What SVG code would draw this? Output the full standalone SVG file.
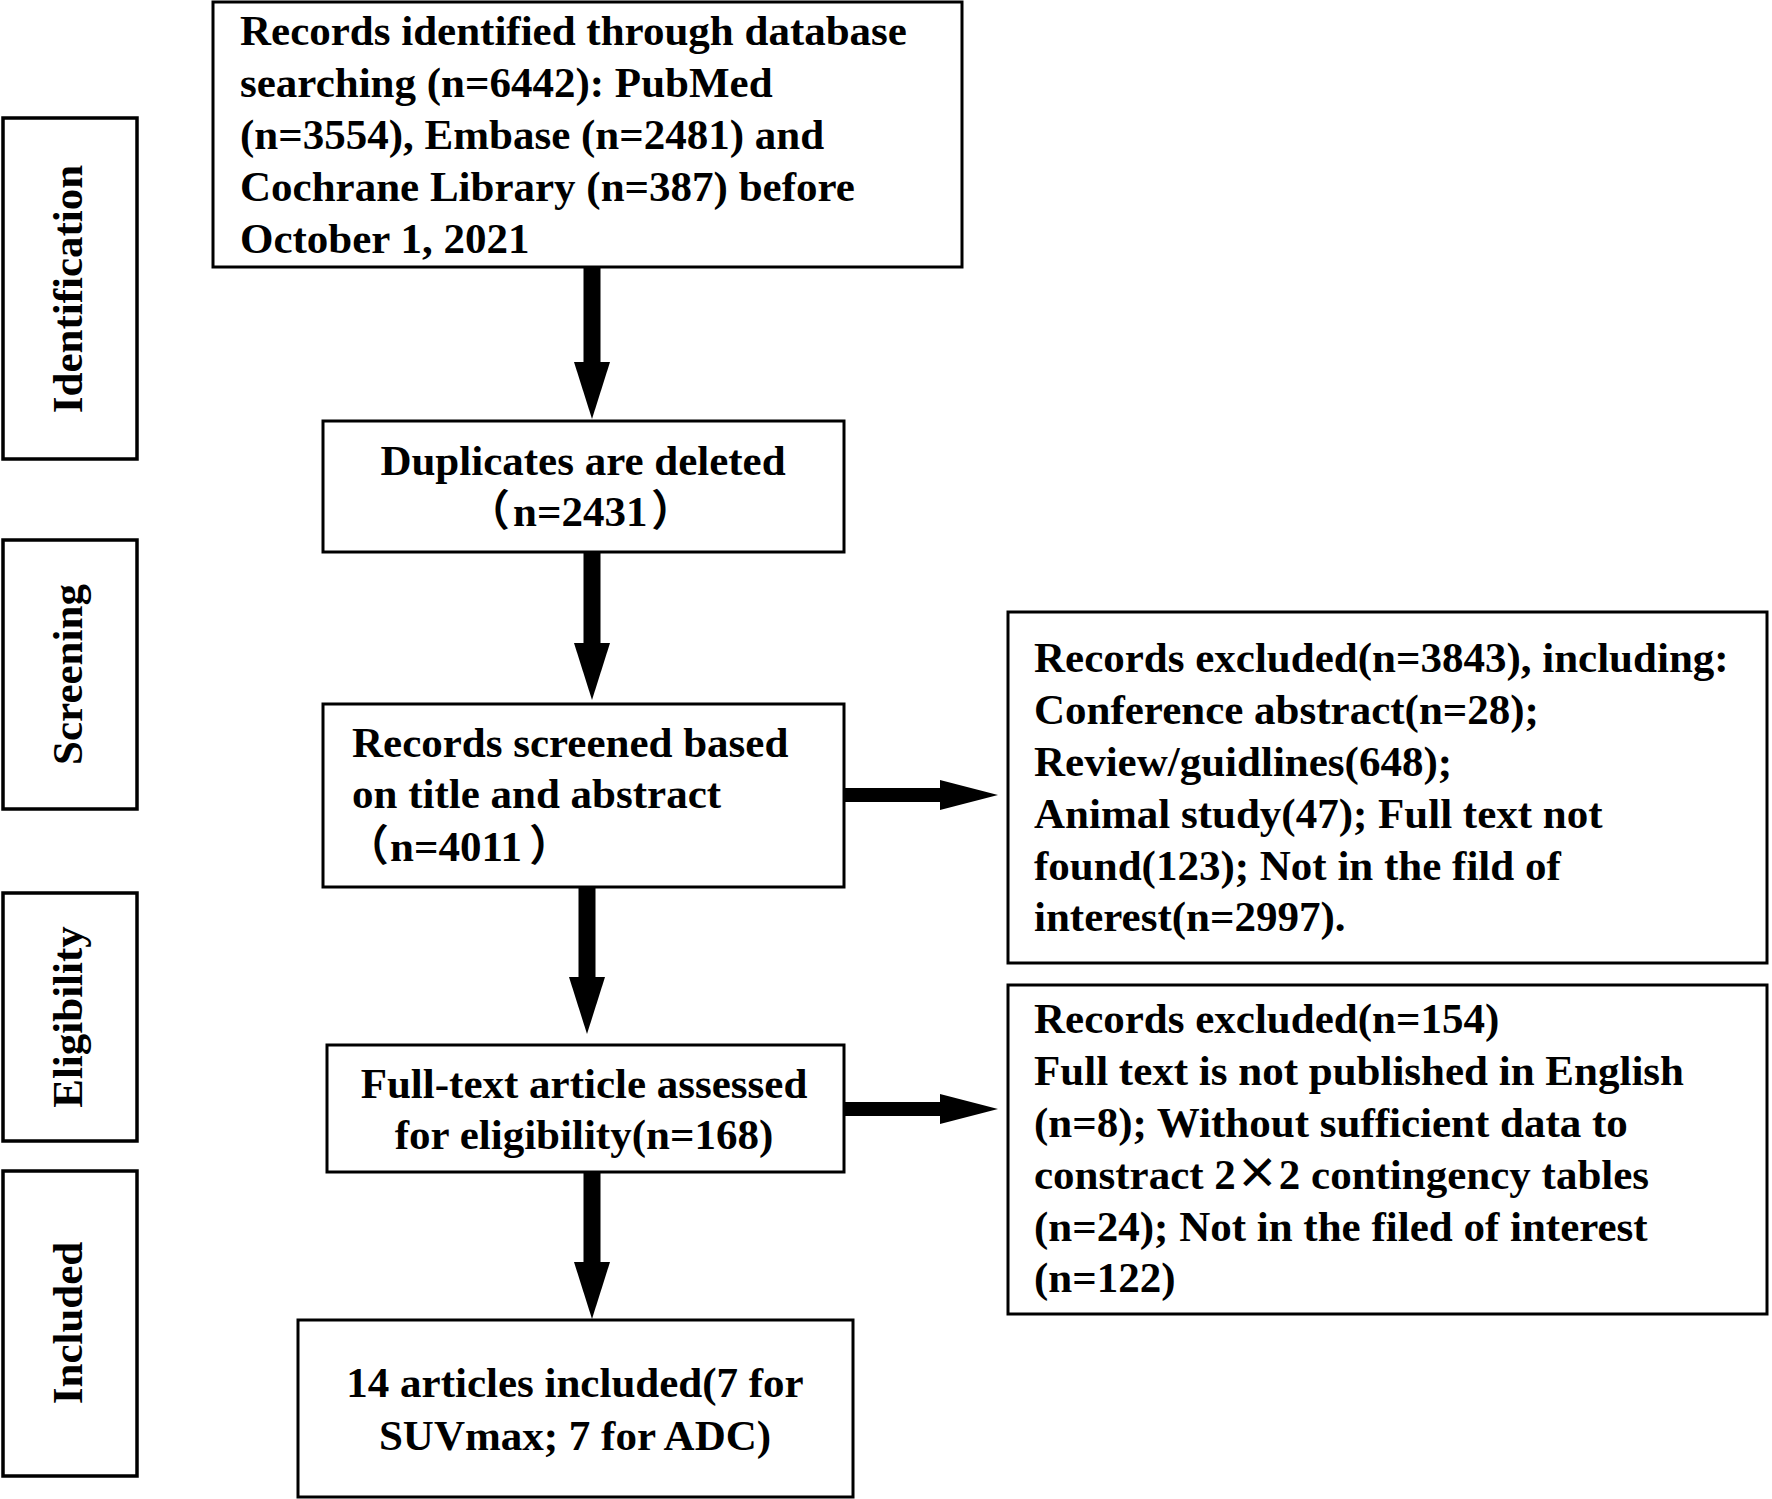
<svg xmlns="http://www.w3.org/2000/svg" width="1772" height="1499" viewBox="0 0 1772 1499">
  <style>
    .box { fill: #ffffff; stroke: #000000; stroke-width: 3; }
    .lbl { fill: #ffffff; stroke: #000000; stroke-width: 3.5; }
    .t { font-family: "Liberation Serif", "Times New Roman", serif; font-weight: bold; font-size: 43px; fill: #000000; }
    .c { text-anchor: middle; }
    .cjk { font-family: "Noto Sans CJK SC", sans-serif; font-weight: bold; }
    .shaftV { stroke: #000000; stroke-width: 17; fill: none; }
    .shaftH { stroke: #000000; stroke-width: 14; fill: none; }
  </style>
  <defs>
    <marker id="headV" markerUnits="userSpaceOnUse" markerWidth="58" markerHeight="36" refX="0" refY="18" orient="auto">
      <path d="M0,0 L57,18 L0,36 z" fill="#000000"/>
    </marker>
    <marker id="headH" markerUnits="userSpaceOnUse" markerWidth="60" markerHeight="32" refX="0" refY="16" orient="auto">
      <path d="M0,1 L58,16 L0,31 z" fill="#000000"/>
    </marker>
  </defs>
  <rect x="0" y="0" width="1772" height="1499" fill="#ffffff"/>

  <g id="stage-identification">
    <rect class="lbl" x="3" y="118" width="134" height="341"/>
    <text class="t c" transform="translate(82,289) rotate(-90)">Identification</text>
  </g>
  <g id="stage-screening">
    <rect class="lbl" x="3" y="540" width="134" height="269"/>
    <text class="t c" transform="translate(82,674.5) rotate(-90)">Screening</text>
  </g>
  <g id="stage-eligibility">
    <rect class="lbl" x="3" y="893" width="134" height="248"/>
    <text class="t c" transform="translate(82,1017) rotate(-90)">Eligibility</text>
  </g>
  <g id="stage-included">
    <rect class="lbl" x="3" y="1171" width="134" height="305"/>
    <text class="t c" transform="translate(82,1323) rotate(-90)">Included</text>
  </g>

  <g id="node-identified">
    <rect class="box" x="213" y="2" width="749" height="265"/>
    <text class="t" x="240" y="45">Records identified through database</text>
    <text class="t" x="240" y="97">searching (n=6442): PubMed</text>
    <text class="t" x="240" y="149">(n=3554), Embase (n=2481) and</text>
    <text class="t" x="240" y="201">Cochrane Library (n=387) before</text>
    <text class="t" x="240" y="253">October 1, 2021</text>
  </g>

  <g id="node-duplicates">
    <rect class="box" x="323" y="421" width="521" height="131"/>
    <text class="t c" x="583" y="475">Duplicates are deleted</text>
    <text class="t" y="526"><tspan class="cjk" x="467">（</tspan><tspan x="513">n=2431</tspan><tspan class="cjk" x="651">）</tspan></text>
  </g>

  <g id="node-screened">
    <rect class="box" x="323" y="704" width="521" height="183"/>
    <text class="t" x="352" y="757">Records screened based</text>
    <text class="t" x="352" y="808">on title and abstract</text>
    <text class="t" y="861"><tspan class="cjk" x="346">（</tspan><tspan x="390">n=4011</tspan><tspan class="cjk" x="529">）</tspan></text>
  </g>

  <g id="node-fulltext">
    <rect class="box" x="327" y="1045" width="517" height="127"/>
    <text class="t c" x="584" y="1098">Full-text article assessed</text>
    <text class="t c" x="584" y="1149">for eligibility(n=168)</text>
  </g>

  <g id="node-included">
    <rect class="box" x="298" y="1320" width="555" height="177"/>
    <text class="t c" x="575" y="1397">14 articles included(7 for</text>
    <text class="t c" x="575" y="1450">SUVmax; 7 for ADC)</text>
  </g>

  <g id="node-excluded-screening">
    <rect class="box" x="1008" y="612" width="759" height="351"/>
    <text class="t" x="1034" y="672">Records excluded(n=3843), including:</text>
    <text class="t" x="1034" y="724">Conference abstract(n=28);</text>
    <text class="t" x="1034" y="776">Review/guidlines(648);</text>
    <text class="t" x="1034" y="828">Animal study(47); Full text not</text>
    <text class="t" x="1034" y="880">found(123); Not in the fild of</text>
    <text class="t" x="1034" y="931">interest(n=2997).</text>
  </g>

  <g id="node-excluded-eligibility">
    <rect class="box" x="1008" y="985" width="759" height="329"/>
    <text class="t" x="1034" y="1033">Records excluded(n=154)</text>
    <text class="t" x="1034" y="1085">Full text is not published in English</text>
    <text class="t" x="1034" y="1137">(n=8); Without sufficient data to</text>
    <text class="t" x="1034" y="1189">constract 2<tspan class="cjk" font-weight="normal">×</tspan>2 contingency tables</text>
    <text class="t" x="1034" y="1241">(n=24); Not in the filed of interest</text>
    <text class="t" x="1034" y="1292">(n=122)</text>
  </g>

  <g id="connectors">
    <path class="shaftV" d="M592,267 L592,362" marker-end="url(#headV)"/>
    <path class="shaftV" d="M592,552 L592,643" marker-end="url(#headV)"/>
    <path class="shaftV" d="M587,887 L587,977" marker-end="url(#headV)"/>
    <path class="shaftV" d="M592,1172 L592,1262" marker-end="url(#headV)"/>
    <path class="shaftH" d="M844,795 L940,795" marker-end="url(#headH)"/>
    <path class="shaftH" d="M844,1109 L940,1109" marker-end="url(#headH)"/>
  </g>
</svg>
